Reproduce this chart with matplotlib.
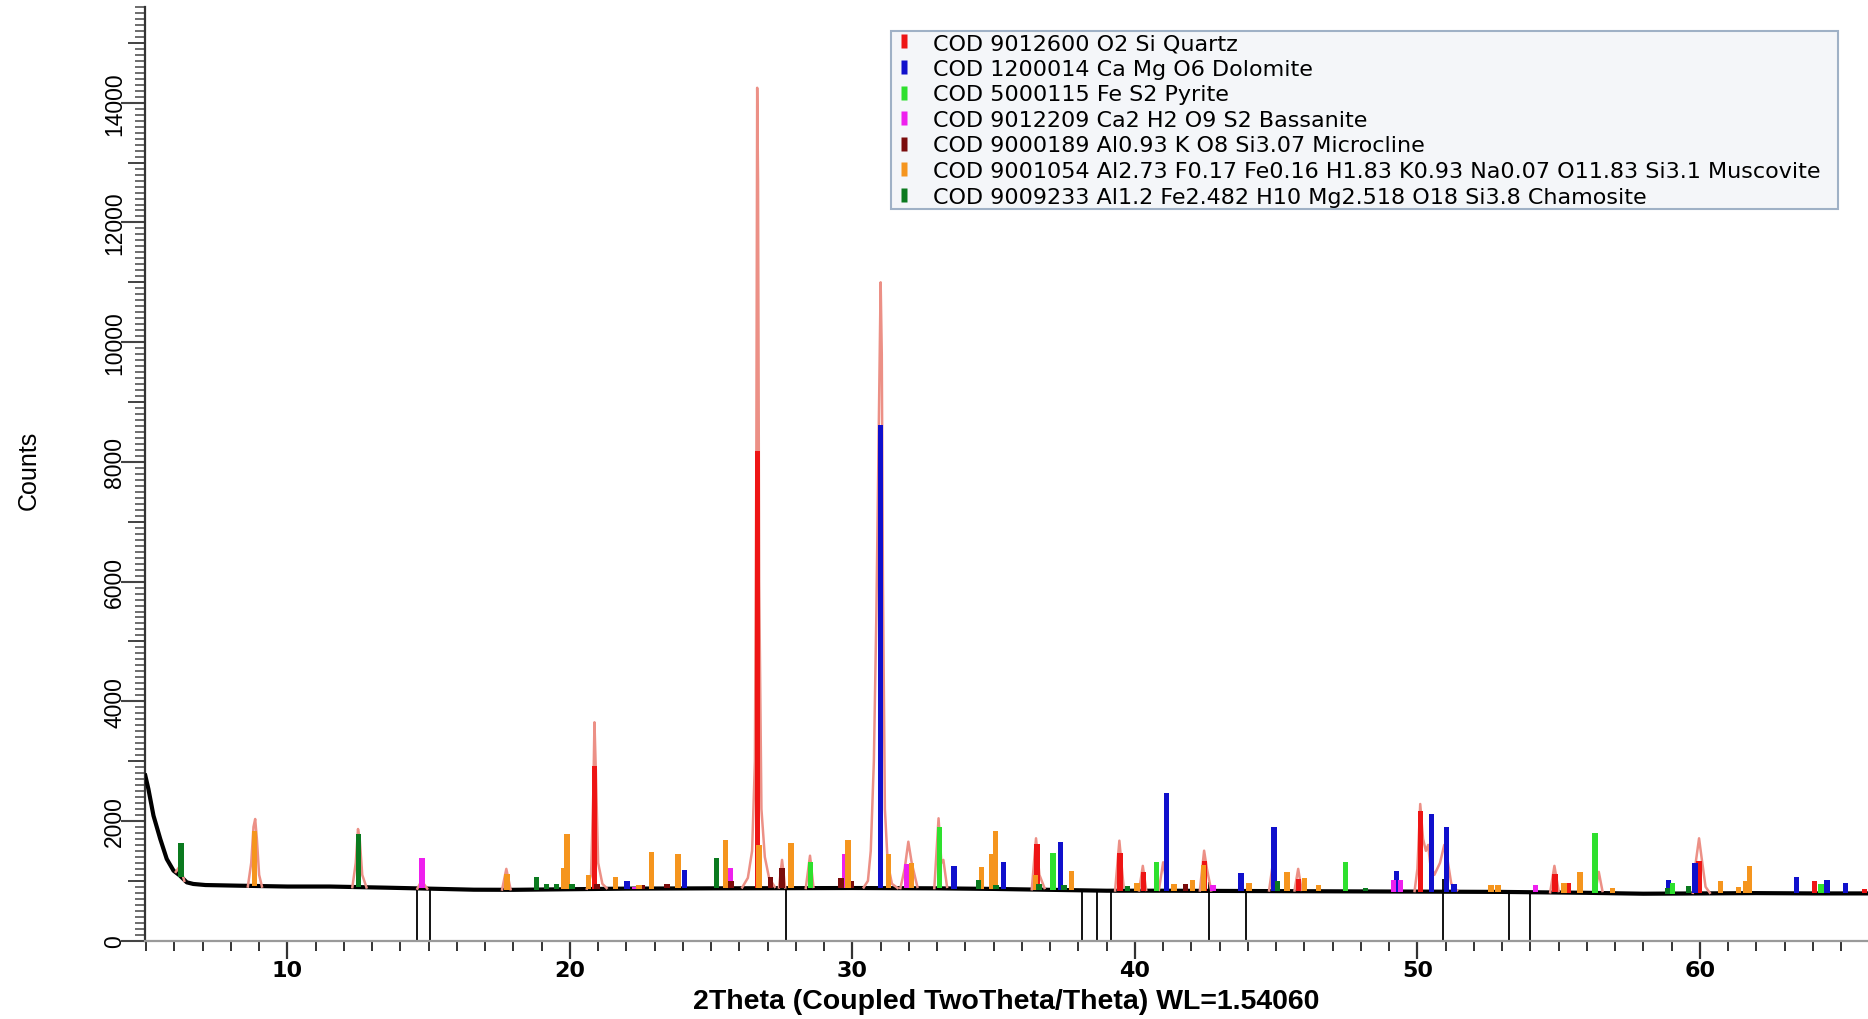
import numpy as np
import matplotlib
matplotlib.use("Agg")
import matplotlib.pyplot as plt
from matplotlib.lines import Line2D
from matplotlib.ticker import MultipleLocator

plt.rcParams['font.family'] = ['Liberation Sans', 'DejaVu Sans']

# ---------------- data ----------------
# measured scan background (black trace)
bg_2theta = [4.97, 5.08, 5.26, 5.5, 5.73, 5.97, 6.2, 6.44, 6.67, 7.1, 8.3, 10, 11.5,
             13.5, 15, 16.6, 18, 20, 22, 25, 28, 30, 33, 35, 37, 39, 41, 44, 47,
             50, 53, 56, 58, 60, 62, 64, 65.95]
bg_counts = [2760, 2535, 2090, 1700, 1365, 1170, 1086, 975, 948, 930, 919, 905, 905,
             886, 870, 852, 850, 860, 870, 875, 878, 880, 875, 865, 850, 835, 835, 830, 825,
             820, 815, 800, 785, 790, 795, 790, 790]

# fitted / calculated profile around the peaks (salmon trace), NaN separates peaks
nan = float('nan')
calc_2theta = [6.05, 6.2, 6.35, nan,
               8.6, 8.72, 8.8, 8.86, 8.92, 9.0, 9.1, nan,
               12.3, 12.42, 12.5, 12.56, 12.65, 12.8, nan,
               14.6, 14.75, 14.95, nan,
               17.6, 17.75, 17.9, nan,
               20.6, 20.75, 20.83, 20.87, 20.92, 21.0, 21.15, 21.3, nan,
               26.1, 26.3, 26.45, 26.55, 26.6, 26.63, 26.66, 26.7, 26.78, 26.9, 27.05, 27.25, nan,
               27.4, 27.51, 27.62, nan,
               28.35, 28.5, 28.62, nan,
               30.4, 30.55, 30.65, 30.76, 30.85, 30.93, 30.97, 31.0, 31.04, 31.08, 31.15, 31.25, 31.4, 31.6, nan,
               31.7, 31.85, 31.98, 32.1, 32.3, nan,
               32.9, 33.05, 33.15, 33.22, 33.35, nan,
               36.35, 36.5, 36.62, 36.8, nan,
               39.3, 39.45, 39.6, nan,
               40.15, 40.28, 40.4, nan,
               40.85, 41.0, 41.15, nan,
               42.3, 42.45, 42.55, 42.7, nan,
               44.75, 44.88, 45.0, nan,
               45.65, 45.78, 45.9, nan,
               49.9, 50.0, 50.1, 50.2, 50.3, 50.38, 50.45, 50.6, 50.8, 50.95, 51.05, 51.2, 51.4, nan,
               54.7, 54.85, 55.0, nan,
               56.3, 56.42, 56.55, nan,
               59.75, 59.85, 59.97, 60.07, 60.2, 60.35]
calc_counts = [1150, 1250, 1000, nan,
               905, 1300, 1900, 2033, 1700, 1100, 905, nan,
               895, 1300, 1866, 1700, 1100, 890, nan,
               870, 1000, 870, nan,
               855, 1200, 860, nan,
               870, 1100, 2500, 3649, 2800, 1300, 950, 880, nan,
               890, 1050, 1500, 3000, 8000, 14250, 12700, 6000, 2200, 1400, 1050, 900, nan,
               890, 1350, 890, nan,
               880, 1420, 900, nan,
               890, 1000, 1500, 3000, 5500, 8500, 10000, 11000, 9800, 6000, 2200, 1300, 950, 880, nan,
               880, 1200, 1654, 1300, 900, nan,
               880, 2045, 1300, 1350, 900, nan,
               860, 1711, 1100, 880, nan,
               840, 1671, 900, nan,
               840, 1250, 850, nan,
               850, 1310, 880, nan,
               840, 1504, 1200, 840, nan,
               840, 1280, 880, nan,
               840, 1200, 850, nan,
               830, 1200, 2284, 1700, 1500, 1600, 1300, 1100, 1300, 1600, 1400, 950, 840, nan,
               810, 1250, 830, nan,
               820, 1150, 830, nan,
               800, 1300, 1711, 1350, 900, 800]

# black marker lines below the scan
mark_2theta = [14.6, 15.06, 27.64, 38.14, 38.65, 39.16, 42.62, 43.92, 50.89, 53.25, 54.0]
mark_top = [870, 870, 880, 835, 835, 835, 975, 835, 1030, 815, 815]

# axis ticks
xtick_values = [10, 20, 30, 40, 50, 60]
xtick_labels = ["10", "20", "30", "40", "50", "60"]
ytick_values = [0, 2000, 4000, 6000, 8000, 10000, 12000, 14000]
ytick_labels = ["0", "2000", "4000", "6000", "8000", "10000", "12000", "14000"]

# reference phase sticks (top of stick in counts)
phase_labels = ["COD 9012600 O2 Si Quartz",
                "COD 1200014 Ca Mg O6 Dolomite",
                "COD 5000115 Fe S2 Pyrite",
                "COD 9012209 Ca2 H2 O9 S2 Bassanite",
                "COD 9000189 Al0.93 K O8 Si3.07 Microcline",
                "COD 9001054 Al2.73 F0.17 Fe0.16 H1.83 K0.93 Na0.07 O11.83 Si3.1 Muscovite",
                "COD 9009233 Al1.2 Fe2.482 H10 Mg2.518 O18 Si3.8 Chamosite"]
phase_colors = ['#ee1515', '#1010cc', '#2ee02e', '#ee20ee', '#7a0c0c', '#f5951e', '#0b7a1f']

quartz_pos = [20.87, 26.65, 36.54, 39.47, 40.3, 42.47, 45.8, 50.11, 54.87, 55.33, 59.97, 64.05, 65.82]
quartz_top = [2924, 8190, 1616, 1460, 1153, 1337, 1036, 2168, 1114, 970, 1337, 1000, 870]

dolomite_pos = [22.02, 24.05, 31.0, 33.6, 35.35, 37.37, 41.12, 43.76, 44.92, 49.26, 50.51,
                51.04, 51.3, 58.89, 59.82, 63.42, 64.5, 65.15]
dolomite_top = [1003, 1187, 8608, 1243, 1310, 1644, 2462, 1126, 1894, 1165, 2117,
                1894, 950, 1015, 1298, 1070, 1010, 960]

pyrite_pos = [28.51, 33.08, 37.1, 40.77, 47.45, 56.28, 59.03, 64.29]
pyrite_top = [1320, 1894, 1460, 1310, 1320, 1800, 960, 950]

bassanite_pos = [14.77, 22.3, 25.67, 29.73, 31.92, 42.77, 49.16, 49.4, 54.17]
bassanite_top = [1376, 900, 1209, 1443, 1281, 930, 1015, 1015, 930]

microcline_pos = [20.96, 22.55, 23.44, 25.7, 27.1, 27.51, 29.6, 29.95, 41.8]
microcline_top = [948, 930, 940, 1000, 1064, 1209, 1050, 1000, 940]

muscovite_pos = [8.84, 17.78, 19.78, 19.9, 20.66, 21.61, 22.44, 22.9, 23.83, 25.51, 26.69,
                 27.83, 29.85, 31.27, 32.1, 34.58, 34.94, 35.06, 36.48, 37.76, 40.08, 41.38,
                 42.03, 42.42, 44.04, 45.39, 46.0, 46.51, 52.6, 52.85, 55.19, 55.76, 56.9,
                 60.72, 61.37, 61.63, 61.75]
muscovite_top = [1838, 1114, 1209, 1783, 1098, 1070, 936, 1477, 1443, 1688, 1599,
                 1632, 1688, 1443, 1298, 1237, 1443, 1838, 1098, 1170, 957, 940,
                 1020, 1265, 957, 1153, 1053, 930, 930, 930, 970, 1142, 880,
                 1000, 900, 1000, 1253]

chamosite_pos = [6.24, 12.52, 18.81, 19.17, 19.52, 20.08, 25.18, 34.46, 35.08, 36.6, 37.49,
                 39.73, 45.04, 48.16, 58.85, 59.6]
chamosite_top = [1633, 1783, 1064, 950, 950, 950, 1376, 1020, 930, 950, 930,
                 920, 990, 880, 880, 920]

phase_pos = [quartz_pos, dolomite_pos, pyrite_pos, bassanite_pos, microcline_pos,
             muscovite_pos, chamosite_pos]
phase_top = [quartz_top, dolomite_top, pyrite_top, bassanite_top, microcline_top,
             muscovite_top, chamosite_top]

# ---------------- figure ----------------
W, H = 1868, 1020
fig = plt.figure(figsize=(W / 100, H / 100), dpi=100)
ax = fig.add_axes([145 / W, 1 - 941.7 / H, 1 - 145 / W, (941.7 - 8) / H])

ax.set_xlim(4.96, 65.95)
ax.set_ylim(0, 15600)

# black marker lines
ax.vlines(mark_2theta, 0, mark_top, color='black', lw=1.3, zorder=2)

# measured scan
ax.plot(bg_2theta, bg_counts, color='black', lw=3.0, zorder=3)

# calculated profile
ax.plot(calc_2theta, calc_counts, color='#ec9086', lw=1.8, zorder=4)

# phase sticks
for pos, top, col in zip(phase_pos, phase_top, phase_colors):
    base = np.interp(pos, bg_2theta, bg_counts)
    ax.bar(pos, np.array(top) - base, bottom=base, width=0.19, color=col,
           edgecolor='none', zorder=5)

# axes styling
for s in ['top', 'right']:
    ax.spines[s].set_visible(False)
ax.spines['bottom'].set_color('#9a9a9a')
ax.spines['bottom'].set_linewidth(1.6)
ax.spines['left'].set_color('#333333')
ax.spines['left'].set_linewidth(1.6)

ax.set_xticks(xtick_values)
ax.set_xticklabels(xtick_labels, fontsize=16, fontweight='bold', fontfamily='DejaVu Sans')
ax.xaxis.set_minor_locator(MultipleLocator(1))
ax.tick_params(axis='x', which='major', length=13, width=1.6, color='#333333', pad=1)
ax.tick_params(axis='x', which='minor', length=7, width=1.4, color='#333333')

ax.set_yticks(ytick_values)
ax.set_yticklabels(ytick_labels, fontsize=16.5, rotation=90, va='center')
ax.yaxis.set_minor_locator(MultipleLocator(100))
ax.tick_params(axis='y', which='major', length=17, width=1.5, color='#444444', pad=-3.5)
ax.tick_params(axis='y', which='minor', length=7, width=1.1, color='#444444')

sec = ax.secondary_yaxis('left')
sec.set_yticks(np.arange(1000, 16000, 2000))
sec.tick_params(axis='y', which='major', length=12, width=1.4, color='#444444',
                labelleft=False)
sec.spines['left'].set_visible(False)

ax.set_xlabel("2Theta (Coupled TwoTheta/Theta) WL=1.54060", fontsize=20.5,
              fontweight='bold', labelpad=6)
fig.text(28.5 / W, 1 - 470 / H, "Counts", rotation=90, fontsize=18,
         ha='center', va='center')

bar_marker = [(-1, -2.5), (1, -2.5), (1, 2.5), (-1, 2.5)]
handles = [Line2D([], [], linestyle='none', marker=bar_marker, markersize=10,
                  markerfacecolor=c, markeredgecolor='none') for c in phase_colors]
leg = ax.legend(handles, phase_labels, loc='upper left',
                bbox_to_anchor=(891 / W, 1 - 212 / H, 947 / W, 180 / H),
                bbox_transform=fig.transFigure, mode='expand', borderaxespad=0,
                prop={'family': 'DejaVu Sans', 'size': 16}, handlelength=1.0,
                handletextpad=0.79, labelspacing=0.25,
                borderpad=0.1, fancybox=False, framealpha=1)
leg.get_frame().set_edgecolor('#9fb1c6')
leg.get_frame().set_facecolor('#f4f6f9')
leg.get_frame().set_linewidth(1.5)

fig.savefig("out.png", dpi=100)
